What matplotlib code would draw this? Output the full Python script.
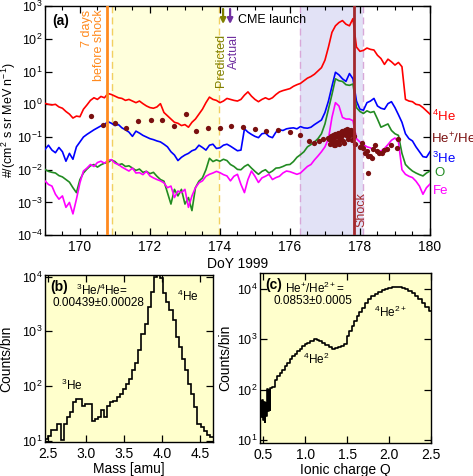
import numpy as np
import matplotlib
matplotlib.use("Agg")
import matplotlib.pyplot as plt
import matplotlib.transforms as mtransforms
from matplotlib.ticker import MultipleLocator, NullLocator, LogLocator

plt.rcParams['font.family'] = ['Liberation Sans', 'DejaVu Sans']
plt.rcParams['mathtext.fontset'] = 'custom'
plt.rcParams['mathtext.rm'] = 'Liberation Sans'
plt.rcParams['mathtext.it'] = 'Liberation Sans:italic'
plt.rcParams['mathtext.bf'] = 'Liberation Sans:bold'

# ---------------- Panel (a) data: day of year 1999, log10 flux ----------------
days = np.round(np.arange(169.0, 180.001, 0.1), 1)

he4_log = [0.03, 0.00, -0.02, 0.00, -0.08, -0.12, -0.22, -0.30, -0.42, -0.36,
           -0.38, -0.15, -0.02, 0.12, 0.20, 0.15, 0.24, 0.20, 0.33, 0.30,
           0.25, 0.20, 0.18, 0.12, 0.15, 0.10, 0.05, 0.10, 0.02, -0.05,
           -0.10, -0.12, -0.08, 0.02, -0.25, -0.35, -0.45, -0.55, -0.58, -0.65,
           -0.62, -0.70, -0.55, -0.45, -0.30, -0.15, 0.05, 0.22, 0.15, 0.12,
           0.05, 0.10, 0.18, 0.15, 0.12, 0.10, 0.15, 0.28, 0.38, 0.25,
           0.15, 0.08, 0.15, 0.20, 0.15, 0.20, 0.30, 0.38, 0.42, 0.45,
           0.48, 0.55, 0.60, 0.64, 0.72, 0.80, 0.85, 0.92, 1.02, 1.12,
           1.35, 1.75, 2.20, 2.40, 2.50, 2.56, 2.45, 2.40, 2.62, 1.75,
           1.62, 1.65, 1.72, 1.68, 1.66, 1.50, 1.40, 1.22, 1.38, 1.30,
           1.20, 1.28, 1.15, 0.15, 0.10, 0.08, 0.00, -0.02, -0.10, -0.20,
           -0.30]

he3_log = [-1.38, -1.25, -1.40, -1.48, -1.32, -1.45, -1.74, -1.50, -1.68, -1.30,
           -1.15, -1.00, -0.92, -0.85, -0.78, -0.72, -0.66, -0.62, -0.53, -0.58,
           -0.65, -0.62, -0.72, -0.78, -0.85, -0.98, -0.82, -0.88, -0.95, -1.00,
           -1.05, -1.08, -1.12, -1.15, -1.22, -1.30, -1.45, -1.55, -1.72, -1.62,
           -1.55, -1.50, -1.42, -1.38, -1.25, -1.32, -1.40, -1.25, -1.22, -1.35,
           -1.33, -1.25, -1.22, -1.28, -1.35, -1.42, -1.40, -0.75, -0.85, -0.92,
           -0.98, -1.02, -0.90, -0.88, -0.98, -1.02, -0.85, -0.78, -0.80, -0.75,
           -0.73, -0.72, -0.75, -0.68, -0.72, -0.73, -0.70, -0.62, -0.55, -0.48,
           -0.25, 0.10, 0.55, 0.98, 0.90, 0.78, 0.70, 0.94, 0.78, 0.10,
           -0.15, -0.18, 0.05, 0.10, 0.18, -0.05, -0.12, -0.15, 0.02, 0.08,
           -0.10, -0.32, -0.55, -0.90, -1.05, -1.12, -1.30, -1.45, -1.60, -1.62,
           -1.45]

o_log = [-1.99, -2.05, -2.08, -2.10, -2.18, -2.22, -2.30, -2.38, -2.55, -2.70,
         -2.30, -2.10, -1.98, -1.88, -1.84, -1.92, -1.85, -1.80, -1.78, -1.70,
         -1.75, -1.85, -1.82, -1.90, -1.88, -1.95, -2.02, -1.98, -2.08, -2.05,
         -2.12, -2.08, -2.20, -2.30, -2.35, -2.70, -3.05, -2.60, -2.80, -2.60,
         -3.05, -2.85, -3.25, -2.55, -2.35, -2.25, -2.00, -1.65, -1.75, -1.70,
         -1.74, -1.68, -1.72, -1.84, -1.90, -1.99, -2.00, -1.90, -1.84, -1.95,
         -2.05, -2.14, -2.05, -2.00, -2.10, -2.04, -1.95, -1.94, -1.90, -1.85,
         -1.84, -1.75, -1.62, -1.54, -1.45, -1.30, -1.23, -1.15, -1.05, -0.90,
         -0.60, -0.15, 0.30, 0.78, 0.72, 0.70, 0.60, 0.58, 0.62, -0.10,
         -0.22, -0.28, -0.20, -0.25, -0.22, -0.45, -0.70, -0.65, -0.60, -0.80,
         -0.90, -0.95, -1.50, -1.84, -1.95, -2.04, -2.10, -2.15, -2.19, -2.10,
         -2.04]

fe_log = [-2.34, -2.45, -2.50, -2.75, -2.90, -2.80, -3.15, -3.00, -3.35, -2.90,
          -2.40, -2.04, -1.95, -1.84, -1.90, -1.78, -1.74, -1.80, -1.72, -1.69,
          -1.80, -1.84, -1.92, -1.98, -2.04, -1.95, -2.10, -2.09, -2.15, -2.05,
          -2.19, -2.25, -2.30, -2.34, -2.40, -2.55, -2.50, -2.85, -2.65, -2.70,
          -2.60, -3.15, -2.80, -2.55, -2.40, -2.34, -2.20, -2.14, -2.10, -2.05,
          -2.09, -2.15, -2.19, -2.34, -2.20, -2.14, -2.45, -2.70, -2.30, -2.04,
          -2.20, -2.39, -2.25, -2.20, -2.14, -2.30, -2.24, -2.20, -2.10, -2.04,
          -2.06, -2.10, -2.14, -2.10, -2.00, -1.90, -1.84, -1.70, -1.58, -1.45,
          -1.30, -1.05, -0.40, 0.05, -0.05, -0.40, -0.45, -0.45, -0.50, -1.05,
          -1.15, -1.23, -1.30, -1.33, -1.40, -1.43, -1.43, -1.35, -1.23, -1.10,
          -1.03, -1.15, -2.00, -2.14, -2.20, -2.24, -2.35, -2.50, -2.75, -2.55,
          -2.44]

ratio_days = [170.33, 170.67, 171.00, 171.33, 171.67, 172.02, 172.35, 172.69, 173.02, 173.33,
              173.67, 174.00, 174.33, 174.65, 175.00, 175.33, 175.67, 176.00, 176.30, 176.55,
              176.69, 176.84, 176.95, 177.08,
              177.12, 177.15, 177.17, 177.20, 177.22, 177.25, 177.27, 177.30, 177.32, 177.35,
              177.37, 177.40, 177.42, 177.45, 177.47, 177.50, 177.52, 177.55, 177.57, 177.60,
              177.62, 177.65, 177.67, 177.70, 177.72, 177.75, 177.77, 177.80, 177.82, 177.85,
              177.40, 177.55, 177.30, 177.65, 177.50,
              178.00, 178.05, 178.10, 178.14, 178.19, 178.24, 178.24, 178.29, 178.33, 178.38,
              178.43, 178.48, 178.55, 178.62, 178.70, 178.76, 178.90, 179.05, 179.10]
ratio_log = [-0.37, -0.63, -0.58, -0.73, -0.51, -0.49, -0.49, -0.65, -0.29, -0.81,
             -0.73, -0.73, -0.65, -0.68, -0.76, -0.81, -0.80, -0.85, -0.93, -1.11,
             -1.18, -1.13, -1.06, -1.03,
             -1.05, -1.20, -0.98, -1.12, -0.95, -1.25, -1.02, -0.92, -1.15, -0.98,
             -0.88, -1.08, -0.93, -0.85, -1.00, -0.82, -1.12, -0.90, -0.78, -0.95,
             -0.76, -1.05, -0.85, -0.80, -0.95, -0.78, -1.10, -0.88, -0.98, -1.20,
             -1.22, -1.18, -1.25, -0.88, -0.95,
             -1.30, -1.18, -1.33, -1.48, -1.43, -2.09, -1.59, -1.58, -1.64, -1.38,
             -1.23, -1.43, -1.48, -1.50, -1.40, -1.38, -1.23, -1.33, -1.05]

# event times (DoY)
t_7days = 170.77
t_yellow = (170.91, 173.97)
t_blue = (176.29, 178.09)
t_shock = 177.83
t_pred = 174.09
t_actual = 174.29

# ---------------- Panel (b): mass histogram ----------------
mass_range = (2.46, 4.67)
mass_counts = [11, 12, 16, 16, 20, 10.5, 20, 27, 33, 51, 58, 58, 44, 47, 47, 23, 25, 27,
               36, 27, 44, 51, 54, 62, 72, 89, 110, 136, 194, 259, 449, 910, 1390, 2810,
               5300, 10000, 10700, 9300, 4940, 3480, 2450, 1600, 790, 520, 315, 194, 110,
               72, 41, 20, 17.5, 15, 13, 11.5]

# ---------------- Panel (c): ionic charge distribution ----------------
charge_q = [0.47, 0.48, 0.49, 0.50, 0.51, 0.52, 0.53, 0.54, 0.55, 0.56, 0.57, 0.58, 0.59,
            0.62, 0.65, 0.68, 0.71, 0.74, 0.77, 0.80, 0.83, 0.86, 0.89, 0.92, 0.95, 0.98,
            1.01, 1.04, 1.08, 1.12, 1.15, 1.18, 1.22, 1.26, 1.30, 1.33, 1.35, 1.37, 1.41,
            1.45, 1.48, 1.51, 1.54, 1.57, 1.60, 1.63, 1.66, 1.69, 1.73, 1.77, 1.81, 1.85,
            1.89, 1.93, 1.97, 2.01, 2.05, 2.09, 2.13, 2.17, 2.21, 2.25, 2.29, 2.33, 2.37,
            2.41, 2.45, 2.50]
charge_log = [1.78, 1.45, 1.79, 1.40, 1.76, 1.36, 1.74, 1.48, 2.02, 1.58, 2.00, 1.60, 2.04,
              2.06, 2.20, 2.28, 2.33, 2.39, 2.46, 2.53, 2.60, 2.66, 2.71, 2.76, 2.81, 2.86,
              2.90, 2.93, 2.97, 3.01, 2.99, 2.96, 2.93, 2.89, 2.85, 2.81, 2.80, 2.83, 2.85,
              2.86, 2.90, 3.06, 3.16, 3.26, 3.36, 3.46, 3.55, 3.63, 3.72, 3.80, 3.86, 3.90,
              3.95, 3.99, 4.01, 4.03, 4.04, 4.05, 4.04, 4.03, 4.00, 3.97, 3.92, 3.87, 3.80,
              3.73, 3.65, 3.56]

# ---------------- Figure ----------------
fig = plt.figure(figsize=(4.73, 4.76), dpi=100)
FS = 10

def style_axes(ax):
    ax.tick_params(which='both', direction='in', top=True, right=True, labelsize=FS)
    ax.tick_params(axis='y', labelsize=9, pad=1.5)
    ax.tick_params(which='major', length=5, width=0.9)
    ax.tick_params(which='minor', length=3, width=0.8)
    for s in ax.spines.values():
        s.set_linewidth(1.0)

# Panel (a)
ax = fig.add_axes([0.095, 0.506, 0.814, 0.481])
ax.set_xlim(169, 180)
ax.set_ylim(1e-4, 1e3)
ax.set_yscale('log')
ax.axvspan(*t_yellow, color='#FFFFDC', zorder=0, lw=0)
ax.axvspan(*t_blue, color='#E2E2F6', zorder=0, lw=0)
for t in t_yellow:
    ax.axvline(t, color='#F2D060', ls=(0, (5, 3)), lw=1.0, zorder=1)
for t in t_blue:
    ax.axvline(t, color='#D8A8D8', ls=(0, (5, 3)), lw=1.0, zorder=1)
ax.axvline(t_7days, color='#FF8A1E', lw=2.0, zorder=5)
ax.axvline(t_shock, color='#A3282C', lw=2.0, zorder=5)

ax.plot(days, 10 ** np.array(he4_log), color='#FF0000', lw=1.2, zorder=3)
ax.plot(days, 10 ** np.array(he3_log), color='#0000FF', lw=1.2, zorder=3)
ax.plot(days, 10 ** np.array(o_log), color='#228B22', lw=1.2, zorder=3)
ax.plot(days, 10 ** np.array(fe_log), color='#FF00FF', lw=1.2, zorder=3)
ax.plot(ratio_days, 10 ** np.array(ratio_log), 'o', color='#7A1010', ms=3.8, mec='none', zorder=4)

ax.xaxis.set_major_locator(MultipleLocator(2))
ax.xaxis.set_minor_locator(MultipleLocator(0.5))
ax.yaxis.set_major_locator(LogLocator(base=10, numticks=20))
ax.yaxis.set_minor_locator(NullLocator())
style_axes(ax)
ax.set_xlabel('DoY 1999', fontsize=FS, labelpad=2)
ax.set_ylabel('#/(cm$^2$ s sr MeV n$^{-1}$)', fontsize=9, va='center')
ax.yaxis.set_label_coords(-0.093, 0.5)

ax.text(0.018, 0.935, '(a)', transform=ax.transAxes, fontsize=FS, fontweight='bold',
        ha='left', va='center')
trans = mtransforms.blended_transform_factory(ax.transData, ax.transAxes)
ax.text(t_7days - 0.05, 0.985, '7 days\nbefore shock', transform=trans, rotation=90,
        color='#FF8A1E', fontsize=9, ha='right', va='top', multialignment='right',
        linespacing=1.0)
ax.text(t_pred - 0.05, 0.88, 'Predicted', transform=trans, rotation=90, color='#808000',
        fontsize=9, ha='center', va='top')
ax.text(t_actual + 0.12, 0.88, 'Actual', transform=trans, rotation=90, color='#7030A0',
        fontsize=9, ha='center', va='top')
ax.annotate('', xy=(t_pred, 0.91), xytext=(t_pred, 1.0), xycoords=trans, textcoords=trans,
            arrowprops=dict(arrowstyle='-|>', color='#808000', lw=1.6, mutation_scale=8))
ax.annotate('', xy=(t_actual, 0.91), xytext=(t_actual, 1.0), xycoords=trans, textcoords=trans,
            arrowprops=dict(arrowstyle='-|>', color='#7030A0', lw=1.6, mutation_scale=8))
ax.text(t_actual + 0.22, 0.94, 'CME launch', transform=trans, fontsize=9, ha='left',
        va='center')
ax.text(t_shock + 0.22, 0.035, 'Shock', transform=trans, rotation=90, color='#A3282C',
        fontsize=9, ha='center', va='bottom')

# right-side labels
rt = mtransforms.blended_transform_factory(ax.transAxes, ax.transData)
lab_x = 1.006
ax.text(lab_x, 10 ** -0.36, '$^4$He', transform=rt, color='#FF0000', fontsize=9.5,
        ha='left', va='center')
ax.text(lab_x - 0.003, 10 ** -1.05, 'He$^{+}$/He$^{2+}$', transform=rt, color='#7A1010',
        fontsize=9.5, ha='left', va='center')
ax.text(lab_x, 10 ** -1.64, '$^3$He', transform=rt, color='#0000FF', fontsize=9.5,
        ha='left', va='center')
ax.text(lab_x + 0.005, 10 ** -2.1, 'O', transform=rt, color='#228B22', fontsize=9.5,
        ha='left', va='center')
ax.text(lab_x + 0.002, 10 ** -2.65, 'Fe', transform=rt, color='#FF00FF', fontsize=9.5,
        ha='left', va='center')

# Panel (b)
bx = fig.add_axes([0.0951, 0.0714, 0.3552, 0.3508])
bx.set_facecolor('#FFFFCC')
edges = np.linspace(mass_range[0], mass_range[1], len(mass_counts) + 1)
bx.stairs(mass_counts, edges, baseline=None, color='black', lw=1.2)
bx.set_yscale('log')
bx.set_xlim(*mass_range)
bx.set_ylim(9.5, 1.07e4)
bx.xaxis.set_major_locator(MultipleLocator(0.5))
bx.xaxis.set_minor_locator(NullLocator())
bx.yaxis.set_major_locator(LogLocator(base=10, numticks=10))
bx.yaxis.set_minor_locator(NullLocator())
style_axes(bx)
bx.set_xlabel('Mass [amu]', fontsize=FS, labelpad=1)
bx.set_ylabel('Counts/bin', fontsize=FS)
bx.yaxis.set_label_coords(-0.19, 0.5)
bx.text(0.03, 0.93, '(b)', transform=bx.transAxes, fontsize=FS, fontweight='bold',
        ha='left', va='center')
bx.text(0.34, 0.91, '$^3$He/$^4$He=', transform=bx.transAxes, fontsize=8.5, ha='center',
        va='center')
bx.text(0.32, 0.835, '0.00439\u00b10.00028', transform=bx.transAxes, fontsize=8.5,
        ha='center', va='center')
bx.text(0.85, 0.87, '$^4$He', transform=bx.transAxes, fontsize=8.5, ha='center', va='center')
bx.text(0.16, 0.34, '$^3$He', transform=bx.transAxes, fontsize=8.5, ha='center', va='center')

# Panel (c)
cx = fig.add_axes([0.5497, 0.0693, 0.3615, 0.3571])
cx.set_facecolor('#FFFFCC')
cx.plot(charge_q, 10 ** np.array(charge_log), color='black', lw=1.2, drawstyle='steps-mid')
cx.set_yscale('log')
cx.set_xlim(0.46, 2.5)
cx.set_ylim(8.6, 2.1e4)
cx.xaxis.set_major_locator(MultipleLocator(0.5))
cx.xaxis.set_minor_locator(NullLocator())
cx.yaxis.set_major_locator(LogLocator(base=10, numticks=10))
cx.yaxis.set_minor_locator(NullLocator())
style_axes(cx)
cx.set_xlabel('Ionic charge Q', fontsize=FS, labelpad=1)
cx.set_ylabel('Counts/bin', fontsize=FS)
cx.yaxis.set_label_coords(-0.165, 0.5)
cx.text(0.03, 0.93, '(c)', transform=cx.transAxes, fontsize=FS, fontweight='bold',
        ha='left', va='center')
cx.text(0.32, 0.91, 'He$^{+}$/He$^{2+}$=', transform=cx.transAxes, fontsize=8.5,
        ha='center', va='center')
cx.text(0.31, 0.835, '0.0853\u00b10.0005', transform=cx.transAxes, fontsize=8.5,
        ha='center', va='center')
cx.text(0.76, 0.77, '$^4$He$^{2+}$', transform=cx.transAxes, fontsize=8.5, ha='center',
        va='center')
cx.text(0.33, 0.49, '$^4$He$^{2}$', transform=cx.transAxes, fontsize=8.5, ha='center',
        va='center')

fig.savefig('out.png', dpi=100)
